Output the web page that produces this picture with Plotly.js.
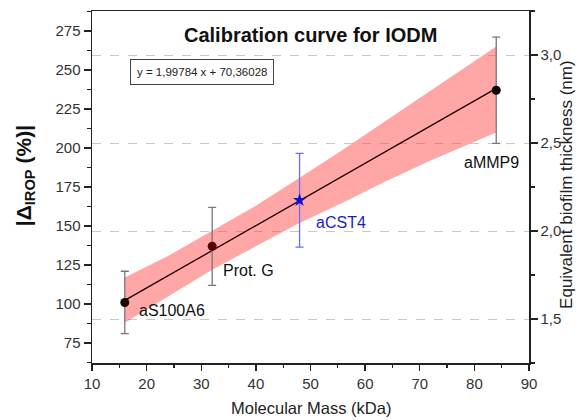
<!DOCTYPE html>
<html>
<head>
<meta charset="utf-8">
<script src="https://cdn.plot.ly/plotly-3.0.1.min.js"></script>
<style>html,body{margin:0;padding:0;background:#fff;}#chart{width:579px;height:420px;}</style>
</head>
<body>
<div id="chart"></div>
<script>
// Data points
var proteins = ["aS100A6", "Prot. G", "aMMP9"];
var massKDa = [16, 32, 84];
var deltaIROP = [101, 137, 237];
var deltaErr = [20, 25, 34];

var testName = ["aCST4"];
var testMass = [48];
var testDelta = [166.5];
var testErr = [30];

// Linear fit y = 1,99784 x + 70,36028 (end points)
var fitX = [16, 84];
var fitY = [102.3, 238.2];

// Confidence band
var bandX = [16, 24, 32, 40, 48, 56, 64, 72, 84];
var bandUpper = [117, 131, 147, 163, 181, 199, 218, 237, 265];
var bandLower = [88, 105, 122, 137, 152, 165, 179, 192, 210];

var bandPolyX = bandX.concat(bandX.slice().reverse());
var bandPolyY = bandUpper.concat(bandLower.slice().reverse());

var traces = [
  {x: bandPolyX, y: bandPolyY, mode: 'lines', fill: 'toself',
   fillcolor: 'rgba(255,70,70,0.48)', line: {width: 0}, hoverinfo: 'skip', showlegend: false},
  {x: fitX, y: fitY, mode: 'lines', line: {color: '#1a0000', width: 1.3}, showlegend: false},
  {x: massKDa, y: deltaIROP, mode: 'markers', text: proteins,
   marker: {color: ['#150000', '#5a0000', '#100000'], size: 9},
   error_y: {type: 'data', array: deltaErr, visible: true, color: '#777', thickness: 1.3, width: 4},
   showlegend: false},
  {x: testMass, y: testDelta, mode: 'markers', text: testName,
   marker: {color: '#1010d0', size: 10, symbol: 'star'},
   error_y: {type: 'data', array: testErr, visible: true, color: '#6a6aff', thickness: 1.3, width: 4},
   showlegend: false},
  {x: [null], y: [null], yaxis: 'y2', mode: 'markers', showlegend: false, hoverinfo: 'skip'}
];

var tickFont = {family: 'Arial, Liberation Sans, sans-serif', size: 15, color: '#333'};

function lab(x, y, text, size, color, angle) {
  return {xref: 'paper', yref: 'paper', x: x, y: y, xanchor: 'center', yanchor: 'middle',
          showarrow: false, text: text, textangle: angle || 0,
          font: {size: size, color: color}};
}

var eq = lab(0.2517, 0.826, 'y = 1,99784 x + 70,36028', 11.5, '#222');
eq.bordercolor = '#444'; eq.borderwidth = 1; eq.borderpad = 6; eq.bgcolor = '#fff';

var layout = {
  width: 579, height: 420,
  margin: {l: 92, r: 50, t: 11, b: 57},
  paper_bgcolor: '#fff', plot_bgcolor: '#fff',
  separators: ',.',
  showlegend: false,
  font: {family: 'Arial, Liberation Sans, sans-serif'},
  xaxis: {
    range: [10, 90], dtick: 10, tick0: 10, showgrid: false, zeroline: false,
    showline: true, linecolor: '#222', linewidth: 1.5, mirror: true,
    ticks: 'outside', ticklen: 6, tickwidth: 1.3, tickcolor: '#222',
    tickfont: tickFont,
    minor: {dtick: 5, ticks: 'outside', ticklen: 3, tickcolor: '#222', showgrid: false}
  },
  yaxis: {
    range: [62.2, 287.8], dtick: 25, tick0: 75, showgrid: false, zeroline: false,
    showline: true, linecolor: '#222', linewidth: 1.5,
    ticks: 'outside', ticklen: 7, tickwidth: 1.3, tickcolor: '#222',
    tickfont: tickFont,
    minor: {dtick: 12.5, ticks: 'outside', ticklen: 4, tickcolor: '#222', showgrid: false}
  },
  yaxis2: {
    overlaying: 'y', side: 'right', range: [1.25, 3.25], dtick: 0.5, tick0: 1.5,
    tickformat: '.1f',
    showgrid: true, gridcolor: '#c8c8c8', griddash: 'dash', gridwidth: 1,
    zeroline: false, showline: true, linecolor: '#222', linewidth: 1.5,
    ticks: 'outside', ticklen: 7, tickwidth: 1.3, tickcolor: '#222',
    tickfont: tickFont,
    minor: {dtick: 0.25, ticks: 'outside', ticklen: 4, tickcolor: '#222', showgrid: false}
  },
  annotations: [
    lab(0.5, 0.932, '<b>Calibration curve for IODM</b>', 20, '#111'),
    eq,
    lab(0.183, 0.150, 'aS100A6', 16, '#111'),
    lab(0.357, 0.264, 'Prot. G', 16, '#111'),
    lab(0.570, 0.398, 'aCST4', 16, '#1a1ad0'),
    lab(0.915, 0.571, 'aMMP9', 16, '#111'),
    lab(-0.153, 0.531, '<b>|Δ<sub>IROP</sub> (%)|</b>', 21, '#111', -90),
    lab(1.087, 0.506, 'Equivalent biofilm thickness (nm)', 17, '#222', -90),
    lab(0.5, -0.128, 'Molecular Mass (kDa)', 16.5, '#222')
  ]
};

Plotly.newPlot('chart', traces, layout, {displayModeBar: false, staticPlot: true});
</script>
</body>
</html>
